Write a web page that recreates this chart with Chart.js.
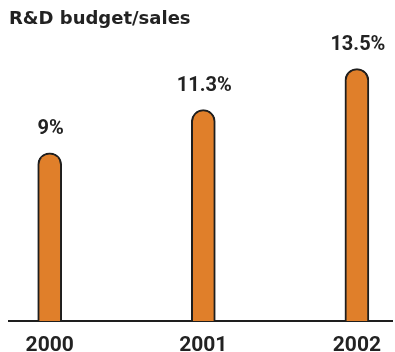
<!DOCTYPE html>
<html>
<head>
<meta charset="utf-8">
<script src="https://cdn.jsdelivr.net/npm/chart.js@4"></script>
<style>
  html, body { margin: 0; padding: 0; background: #fff; }
  #wrap { width: 395px; height: 352px; position: relative; }
</style>
</head>
<body>
<div id="wrap"><canvas id="chRd"></canvas></div>
<script>
// R&D budget as share of sales, by year
const years = [2000, 2001, 2002];
const rdShare = [9, 11.3, 13.5];
const valueLabels = ['9%', '11.3%', '13.5%'];

const fontFam = 'Roboto, "Liberation Sans", sans-serif';

// writes the percentage above each bar
const valueLabelPlugin = {
    id: 'valueLabels',
    afterDatasetsDraw(chart) {
        const ctx = chart.ctx;
        const meta = chart.getDatasetMeta(0);
        ctx.save();
        ctx.font = 'bold 20px ' + fontFam;
        ctx.fillStyle = '#222';
        ctx.textAlign = 'center';
        ctx.textBaseline = 'alphabetic';
        meta.data.forEach((bar, i) => {
            ctx.fillText(valueLabels[i], bar.x + 1, bar.y - 19);
        });
        ctx.restore();
    }
};

const ctx = document.getElementById('chRd').getContext('2d');
const rdChart = new Chart(ctx, {
    type: 'bar',
    data: {
        datasets: [{
            data: years.map((y, i) => ({ x: y, y: rdShare[i] })),
            backgroundColor: '#E07F2A',
            borderColor: '#1e1e1e',
            borderWidth: 2,
            borderSkipped: 'bottom',
            borderRadius: { topLeft: 12, topRight: 12, bottomLeft: 0, bottomRight: 0 },
            barThickness: 24
        }]
    },
    options: {
        responsive: true,
        maintainAspectRatio: false,
        animation: false,
        layout: { padding: { left: 9, right: 0, top: 0, bottom: 0 } },
        scales: {
            x: {
                type: 'linear',
                offset: false,
                min: 1999.735,
                max: 2002.233,
                afterBuildTicks: (axis) => { axis.ticks = years.map(v => ({ value: v })); },
                afterFit: (axis) => { axis.height = 31; },
                ticks: {
                    callback: (v) => String(v),
                    color: '#222',
                    padding: 14,
                    maxRotation: 0,
                    font: { family: fontFam, size: 21, weight: 'bold', lineHeight: 1 }
                },
                grid: { display: false, drawTicks: false, offset: false },
                border: { display: true, color: '#1e1e1e', width: 2 }
            },
            y: {
                display: false,
                min: 0,
                max: 15.37
            }
        },
        plugins: {
            legend: { display: false },
            tooltip: { enabled: false },
            title: {
                display: true,
                text: 'R&D budget/sales',
                align: 'start',
                color: '#222',
                padding: { top: 9, bottom: 3 },
                font: { family: '"DejaVu Sans", Verdana, sans-serif', size: 18, weight: 'bold', lineHeight: 1.2 }
            }
        }
    },
    plugins: [valueLabelPlugin]
});
</script>
</body>
</html>
